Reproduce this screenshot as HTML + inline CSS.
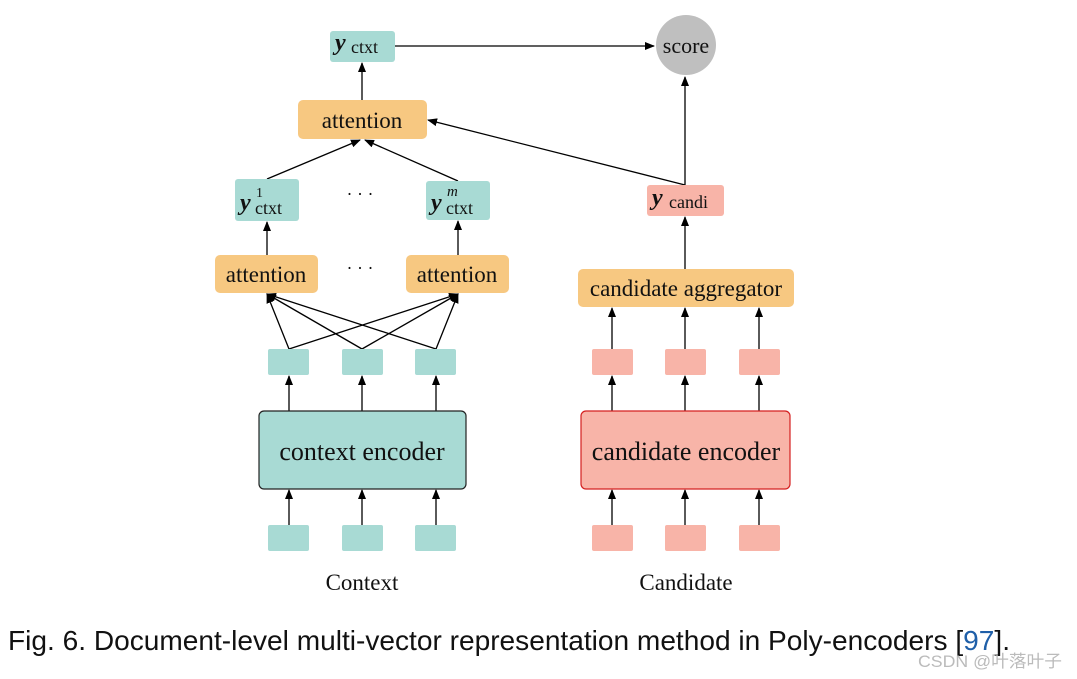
<!DOCTYPE html>
<html><head><meta charset="utf-8"><style>
html,body{margin:0;padding:0;background:#fff;width:1077px;height:679px;overflow:hidden}
svg{display:block}
.t{font-family:"Liberation Serif",serif;fill:#111}
</style></head><body>
<svg width="1077" height="679" viewBox="0 0 1077 679" xmlns="http://www.w3.org/2000/svg">
<defs><marker id="a" markerWidth="10" markerHeight="8" refX="9" refY="4" orient="auto" markerUnits="userSpaceOnUse"><path d="M0,0 L10,4 L0,8 z" fill="#000"/></marker></defs>
<g stroke="#000" stroke-width="1.3" fill="none" marker-end="url(#a)">
<line x1="395" y1="46" x2="654" y2="46"/>
<line x1="362" y1="100" x2="362" y2="63"/>
<line x1="267" y1="179" x2="360" y2="140"/>
<line x1="458" y1="181" x2="365" y2="140"/>
<line x1="685" y1="185" x2="428" y2="120"/>
<line x1="685" y1="185" x2="685" y2="77"/>
<line x1="685" y1="269" x2="685" y2="217"/>
<line x1="267" y1="255" x2="267" y2="222"/>
<line x1="458" y1="255" x2="458" y2="221"/>
<line x1="289" y1="349" x2="267" y2="294"/>
<line x1="362" y1="349" x2="267" y2="294"/>
<line x1="436" y1="349" x2="267" y2="294"/>
<line x1="289" y1="349" x2="458" y2="294"/>
<line x1="362" y1="349" x2="458" y2="294"/>
<line x1="436" y1="349" x2="458" y2="294"/>
<line x1="289" y1="411" x2="289" y2="376"/>
<line x1="362" y1="411" x2="362" y2="376"/>
<line x1="436" y1="411" x2="436" y2="376"/>
<line x1="612" y1="349" x2="612" y2="308"/>
<line x1="685" y1="349" x2="685" y2="308"/>
<line x1="759" y1="349" x2="759" y2="308"/>
<line x1="612" y1="411" x2="612" y2="376"/>
<line x1="685" y1="411" x2="685" y2="376"/>
<line x1="759" y1="411" x2="759" y2="376"/>
<line x1="289" y1="525" x2="289" y2="490"/>
<line x1="362" y1="525" x2="362" y2="490"/>
<line x1="436" y1="525" x2="436" y2="490"/>
<line x1="612" y1="525" x2="612" y2="490"/>
<line x1="685" y1="525" x2="685" y2="490"/>
<line x1="759" y1="525" x2="759" y2="490"/>
</g>
<circle cx="686" cy="45" r="30" fill="#bfbfbf"/>
<text class="t" x="686" y="53" font-size="22" text-anchor="middle">score</text>
<g fill="#a8dad4">
<rect x="330" y="31" width="65" height="31" rx="3"/>
<rect x="235" y="179" width="64" height="42" rx="3"/>
<rect x="426" y="181" width="64" height="39" rx="3"/>
<rect x="268" y="349" width="41" height="26" rx="2"/>
<rect x="342" y="349" width="41" height="26" rx="2"/>
<rect x="415" y="349" width="41" height="26" rx="2"/>
<rect x="268" y="525" width="41" height="26" rx="2"/>
<rect x="342" y="525" width="41" height="26" rx="2"/>
<rect x="415" y="525" width="41" height="26" rx="2"/>
<rect x="259" y="411" width="207" height="78" rx="5" stroke="#222" stroke-width="1.2"/>
</g>
<g fill="#f7c881">
<rect x="298" y="100" width="129" height="39" rx="5"/>
<rect x="215" y="255" width="103" height="38" rx="5"/>
<rect x="406" y="255" width="103" height="38" rx="5"/>
<rect x="578" y="269" width="216" height="38" rx="5"/>
</g>
<g fill="#f8b4a8">
<rect x="647" y="185" width="77" height="31" rx="3"/>
<rect x="592" y="349" width="41" height="26" rx="2"/>
<rect x="665" y="349" width="41" height="26" rx="2"/>
<rect x="739" y="349" width="41" height="26" rx="2"/>
<rect x="592" y="525" width="41" height="26" rx="2"/>
<rect x="665" y="525" width="41" height="26" rx="2"/>
<rect x="739" y="525" width="41" height="26" rx="2"/>
<rect x="581" y="411" width="209" height="78" rx="5" stroke="#d42020" stroke-width="1.2"/>
</g>
<text class="t" x="335" y="50" font-size="24" font-weight="bold" font-style="italic">y</text>
<text class="t" x="351" y="53" font-size="18">ctxt</text>
<text class="t" x="240" y="210" font-size="24" font-weight="bold" font-style="italic">y</text>
<text class="t" x="256" y="197" font-size="14">1</text>
<text class="t" x="255" y="214" font-size="18">ctxt</text>
<text class="t" x="431" y="210" font-size="24" font-weight="bold" font-style="italic">y</text>
<text class="t" x="447" y="196" font-size="15" font-style="italic">m</text>
<text class="t" x="446" y="214" font-size="18">ctxt</text>
<text class="t" x="652" y="205" font-size="24" font-weight="bold" font-style="italic">y</text>
<text class="t" x="669" y="208" font-size="18">candi</text>
<text class="t" x="362" y="128" font-size="23" text-anchor="middle">attention</text>
<text class="t" x="266" y="282" font-size="23" text-anchor="middle">attention</text>
<text class="t" x="457" y="282" font-size="23" text-anchor="middle">attention</text>
<text class="t" x="686" y="296" font-size="23" text-anchor="middle">candidate aggregator</text>
<text class="t" x="360" y="200" font-size="18" text-anchor="middle">· · ·</text>
<text class="t" x="360" y="274" font-size="18" text-anchor="middle">· · ·</text>
<text class="t" x="362" y="460" font-size="26" text-anchor="middle">context encoder</text>
<text class="t" x="686" y="460" font-size="26" text-anchor="middle">candidate encoder</text>
<text class="t" x="362" y="590" font-size="23" text-anchor="middle">Context</text>
<text class="t" x="686" y="590" font-size="23" text-anchor="middle">Candidate</text>
<text x="8" y="650" font-size="28" font-family="'Liberation Sans Narrow','Liberation Sans',sans-serif" fill="#111" textLength="1002" lengthAdjust="spacingAndGlyphs">Fig. 6.  Document-level multi-vector representation method in Poly-encoders [<tspan fill="#1f5fa8">97</tspan>].</text>
<text x="918" y="667" font-size="17" font-family="'Liberation Sans','Noto Sans CJK SC',sans-serif" fill="#bbb" textLength="144" lengthAdjust="spacingAndGlyphs">CSDN @叶落叶子</text>
</svg>
</body></html>
